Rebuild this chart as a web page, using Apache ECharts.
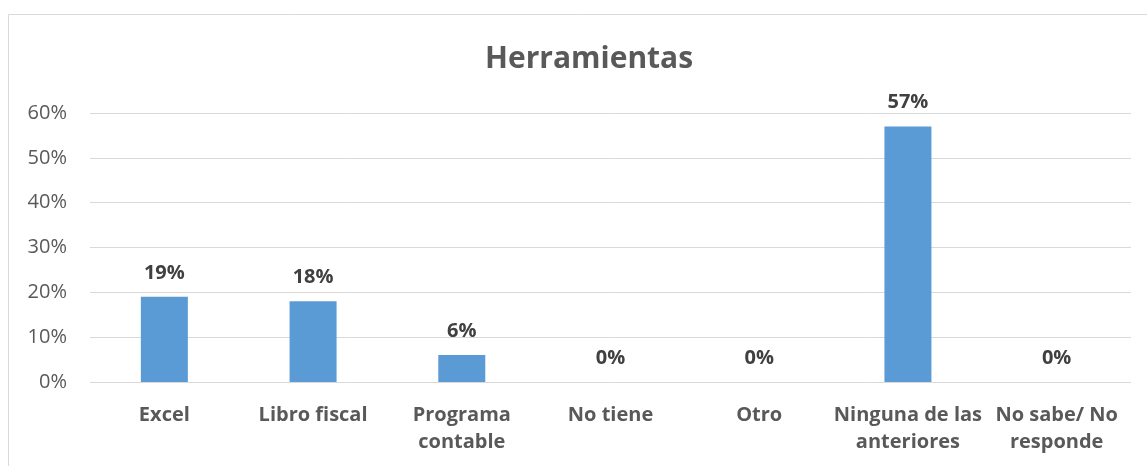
<!DOCTYPE html>
<html>
<head>
<meta charset="utf-8">
<script src="https://cdn.jsdelivr.net/npm/echarts@6/dist/echarts.min.js"></script>
<style>
html,body{margin:0;padding:0;background:#fff;}
#c{width:1147px;height:466px;}
</style>
</head>
<body>
<div id="c"></div>
<script>
const categories = ['Excel', 'Libro fiscal', 'Programa\ncontable', 'No tiene', 'Otro', 'Ninguna de las\nanteriores', 'No sabe/ No\nresponde'];
const values = [0.19, 0.18, 0.06, 0, 0, 0.57, 0];
const chartTitle = 'Herramientas';

const FONT = "'Open Sans', 'Noto Sans', sans-serif";
const chart = echarts.init(document.getElementById('c'));
chart.setOption({
  animation: false,
  title: {
    text: chartTitle,
    left: 480,
    top: 39,
    textStyle: { fontFamily: FONT, fontWeight: 'bold', fontSize: 30, color: '#595959' }
  },
  graphic: [{
    type: 'rect',
    shape: { x: 8.5, y: 14.5, width: 1300, height: 600 },
    style: { fill: 'none', stroke: '#d9d9d9', lineWidth: 1 },
    silent: true
  }],
  grid: { left: 90, right: 16, top: 113, bottom: 84 },
  xAxis: {
    type: 'category',
    data: categories,
    axisLine: { show: false },
    axisTick: { show: false },
    axisLabel: {
      interval: 0,
      margin: 20,
      fontFamily: FONT,
      fontWeight: 'bold',
      fontSize: 20,
      lineHeight: 27,
      color: '#595959'
    }
  },
  yAxis: {
    type: 'value',
    min: 0,
    max: 0.6,
    interval: 0.1,
    axisLine: { show: false },
    axisTick: { show: false },
    splitLine: { lineStyle: { color: '#d9d9d9', width: 1 } },
    axisLabel: {
      margin: 23,
      fontFamily: FONT,
      fontSize: 20,
      color: '#595959',
      formatter: v => Math.round(v * 100) + '%'
    }
  },
  series: [{
    type: 'bar',
    data: values,
    barWidth: '31.6%',
    itemStyle: { color: '#5B9BD5' },
    label: {
      show: true,
      position: 'top',
      distance: 14,
      fontFamily: FONT,
      fontWeight: 'bold',
      fontSize: 20,
      color: '#404040',
      formatter: p => Math.round(p.value * 100) + '%'
    }
  }]
});
</script>
</body>
</html>
